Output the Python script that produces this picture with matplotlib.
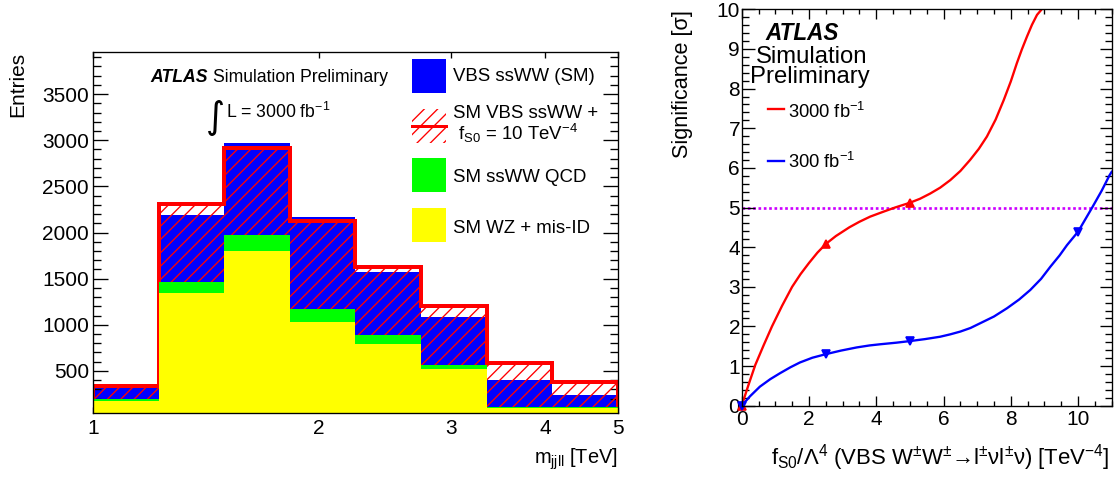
import numpy as np
import matplotlib
matplotlib.use("Agg")
import matplotlib.pyplot as plt
from matplotlib.patches import Rectangle
from matplotlib.lines import Line2D
from matplotlib.ticker import MultipleLocator, NullLocator, FixedLocator

# ---------------- data ----------------
# left panel: m_jjll histogram (bin edges in TeV)
bin_edges = [1.0, 1.223, 1.495, 1.829, 2.236, 2.734, 3.344, 4.089, 5.0]
wz_misid = [175, 1340, 1800, 1025, 790, 525, 100, 95]
ssww_qcd = [20, 125, 175, 150, 95, 37, 12, 10]
vbs_sm = [125, 725, 990, 995, 685, 518, 293, 130]
vbs_fs0 = [145, 845, 945, 955, 745, 638, 478, 270]

legend_labels = ["VBS ssWW (SM)", "SM VBS ssWW +", r" f$_{\mathregular{S0}}$ = 10 TeV$^{-4}$",
                 "SM ssWW QCD", "SM WZ + mis-ID"]

# right panel: significance vs f_S0/Lambda^4 (curve)
red_curve_x = [0.0, 0.2, 0.4, 0.65, 0.9, 1.2, 1.5, 1.75, 2.0, 2.25, 2.5, 2.8, 3.2, 3.5, 3.82,
               4.2, 4.56, 5.0, 5.3, 5.6, 5.9, 6.2, 6.5, 6.79, 7.05, 7.29, 7.55, 7.79, 8.0,
               8.18, 8.33, 8.48, 8.63, 8.78, 8.9, 8.97]
red_curve_y = [0.0, 0.52, 1.02, 1.52, 2.0, 2.52, 3.0, 3.32, 3.6, 3.86, 4.08, 4.28, 4.5, 4.64,
               4.77, 4.89, 5.0, 5.12, 5.22, 5.35, 5.5, 5.69, 5.92, 6.2, 6.48, 6.79, 7.22, 7.71,
               8.18, 8.64, 8.99, 9.31, 9.61, 9.86, 9.98, 10.05]
red_marker_x = [0.0, 2.5, 5.0]
red_marker_y = [0.0, 4.08, 5.12]

blue_curve_x = [0.0, 0.25, 0.54, 0.85, 1.14, 1.45, 1.73, 2.1, 2.5, 2.95, 3.42, 3.8, 4.12, 4.6,
                5.0, 5.45, 5.9, 6.2, 6.5, 6.8, 7.09, 7.5, 7.89, 8.25, 8.58, 8.9, 9.18, 9.45,
                9.67, 10.0, 10.2, 10.42, 10.7, 10.94, 11.0]
blue_curve_y = [0.0, 0.24, 0.48, 0.67, 0.82, 0.97, 1.09, 1.21, 1.30, 1.39, 1.47, 1.52, 1.55,
                1.59, 1.63, 1.68, 1.74, 1.8, 1.87, 1.96, 2.08, 2.25, 2.46, 2.68, 2.92, 3.2,
                3.51, 3.79, 4.05, 4.39, 4.68, 5.0, 5.42, 5.82, 5.9]
blue_marker_x = [0.0, 2.5, 5.0, 10.0]
blue_marker_y = [0.0, 1.30, 1.63, 4.39]

discovery_level = 5.0

# ---------------- style ----------------
plt.rcParams['font.family'] = ['Liberation Sans', 'DejaVu Sans']
plt.rcParams['mathtext.fontset'] = 'custom'
plt.rcParams['mathtext.rm'] = 'Liberation Sans'
plt.rcParams['mathtext.it'] = 'Liberation Sans:italic'
plt.rcParams['mathtext.bf'] = 'Liberation Sans:bold'
plt.rcParams['mathtext.default'] = 'regular'
plt.rcParams['hatch.linewidth'] = 0.8

W, H = 1117, 482
DPI = 120
fig = plt.figure(figsize=(W / DPI, H / DPI), dpi=DPI)


def FX(px):
    return px / W


def FY(py):
    return 1 - py / H


# ---------------- left panel ----------------
ax1 = fig.add_axes([FX(93), FY(413), 525 / W, 361 / H])
e = np.array(bin_edges)
wz = np.array(wz_misid, float)
qcd = np.array(ssww_qcd, float)
sm = np.array(vbs_sm, float)
eft = np.array(vbs_fs0, float)

ax1.stairs(wz + qcd + sm, e, baseline=0, fill=True, color='#0000ff', lw=0, zorder=1)
ax1.stairs(wz + qcd + eft, e, baseline=0, fill=True, facecolor='none', edgecolor='#ff0000',
           hatch='///', lw=0, zorder=2)
ax1.stairs(wz + qcd + eft, e, baseline=0, fill=False, color='#ff0000', lw=2.4, zorder=2.5)
ax1.stairs(wz + qcd, e, baseline=0, fill=True, color='#00ff00', lw=0, zorder=3)
ax1.stairs(wz, e, baseline=0, fill=True, color='#ffff00', lw=0, zorder=4)

ax1.set_xscale('log')
ax1.set_xlim(1, 5)
ax1.set_ylim(44, 3956)
ax1.xaxis.set_major_locator(FixedLocator([1, 2, 3, 4, 5]))
ax1.xaxis.set_minor_locator(NullLocator())
ax1.set_xticklabels(['1', '2', '3', '4', '5'])
ax1.yaxis.set_major_locator(FixedLocator([500, 1000, 1500, 2000, 2500, 3000, 3500]))
ax1.yaxis.set_minor_locator(MultipleLocator(100))
ax1.tick_params(which='both', direction='in', top=True, right=True, width=0.8)
ax1.tick_params(axis='y', which='major', length=9, labelsize=12.5, pad=2.5)
ax1.tick_params(axis='y', which='minor', length=4.6)
ax1.tick_params(axis='x', which='major', length=3.6, labelsize=12.5, pad=3.5)
for s in ax1.spines.values():
    s.set_linewidth(0.8)
    s.set_zorder(10)

fig.text(FX(18), FY(52), 'Entries', rotation=90, ha='center', va='top', fontsize=12.5)
fig.text(FX(618), FY(472), r'm$_{\mathregular{jjll}}$ [TeV]', ha='right', va='bottom', fontsize=12)

fig.text(FX(150), FY(82), 'ATLAS', fontsize=10.6, fontweight='bold', fontstyle='italic',
         ha='left', va='baseline')
fig.text(FX(213), FY(82), 'Simulation Preliminary', fontsize=10.6, ha='left', va='baseline')
fig.text(FX(206), FY(128), '\u222b', fontsize=22, ha='left', va='baseline',
         family=['DejaVu Sans'])
fig.text(FX(226), FY(118), r'L = 3000 fb$^{-1}$', fontsize=10.6, ha='left', va='baseline')

# legend (left panel)
box_w, box_h = 34, 34
box_x = 412
fig.add_artist(Rectangle((FX(box_x), FY(59 + box_h)), box_w / W, box_h / H,
                         transform=fig.transFigure, facecolor='#0000ff', lw=0))
fig.add_artist(Rectangle((FX(box_x), FY(109 + box_h)), box_w / W, box_h / H,
                         transform=fig.transFigure, facecolor='none', edgecolor='#ff0000',
                         hatch='///', lw=0))
fig.add_artist(Line2D([FX(box_x), FX(box_x + box_w)], [FY(126), FY(126)],
                      transform=fig.transFigure, color='#ff0000', lw=1.8))
fig.add_artist(Rectangle((FX(box_x), FY(158 + box_h)), box_w / W, box_h / H,
                         transform=fig.transFigure, facecolor='#00ff00', lw=0))
fig.add_artist(Rectangle((FX(box_x), FY(208 + box_h)), box_w / W, box_h / H,
                         transform=fig.transFigure, facecolor='#ffff00', lw=0))
for lab, yb in zip(legend_labels, [81, 118, 140, 181.5, 233]):
    fig.text(FX(453), FY(yb), lab, fontsize=11.2, ha='left', va='baseline')

# ---------------- right panel ----------------
ax2 = fig.add_axes([FX(741.7), FY(405.7), 370 / W, 396.4 / H])
ax2.axhline(discovery_level, color='#cc00ff', ls=(0, (1, 1)), lw=1.6, zorder=1)
ax2.plot(red_curve_x, red_curve_y, color='#ff0000', lw=1.4, zorder=3, solid_joinstyle='round')
ax2.plot(red_marker_x, red_marker_y, ls='none', marker='^', color='#ff0000', ms=4.5, zorder=4,
         clip_on=False)
ax2.plot(blue_curve_x, blue_curve_y, color='#0000ff', lw=1.4, zorder=3, solid_joinstyle='round')
ax2.plot(blue_marker_x, blue_marker_y, ls='none', marker='v', color='#0000ff', ms=4.5, zorder=4,
         clip_on=False)
ax2.set_xlim(0, 11)
ax2.set_ylim(0, 10)
ax2.xaxis.set_major_locator(MultipleLocator(2))
ax2.xaxis.set_minor_locator(MultipleLocator(0.5))
ax2.yaxis.set_major_locator(MultipleLocator(1))
ax2.yaxis.set_minor_locator(MultipleLocator(0.2))
ax2.tick_params(which='both', direction='in', top=True, right=True, width=0.8)
ax2.tick_params(axis='y', which='major', length=7.5, labelsize=12.5, pad=1.0)
ax2.tick_params(axis='y', which='minor', length=4.2)
ax2.tick_params(axis='x', which='major', length=6, labelsize=12.5, pad=2.5)
ax2.tick_params(axis='x', which='minor', length=3.2)
for s in ax2.spines.values():
    s.set_linewidth(0.8)
    s.set_zorder(10)

fig.text(FX(682.5), FY(10), 'Significance [\u03c3]', rotation=90, ha='center', va='top',
         fontsize=13)
xlab = ('f$_{\\mathregular{S0}}$/\u039b$^{4}$ (VBS W$^{\\pm}$W$^{\\pm}$\u2192l$^{\\pm}$\u03bd'
        'l$^{\\pm}$\u03bd) [TeV$^{-4}$]')
fig.text(FX(1110), FY(473), xlab, ha='right', va='bottom', fontsize=13.3)

fig.text(FX(765), FY(40), 'ATLAS', fontsize=13.5, fontweight='bold', fontstyle='italic',
         ha='left', va='baseline')
fig.text(FX(812), FY(63.3), 'Simulation', fontsize=14.3, ha='center', va='baseline')
fig.text(FX(810), FY(83.5), 'Preliminary', fontsize=14.3, ha='center', va='baseline')

fig.add_artist(Line2D([FX(767.7), FX(784)], [FY(109.3), FY(109.3)], transform=fig.transFigure,
                      color='#ff0000', lw=1.4))
fig.text(FX(788), FY(118.3), r'3000 fb$^{-1}$', fontsize=11, ha='left', va='baseline')
fig.add_artist(Line2D([FX(767.7), FX(784)], [FY(160.7), FY(160.7)], transform=fig.transFigure,
                      color='#0000ff', lw=1.4))
fig.text(FX(788), FY(168.3), r'300 fb$^{-1}$', fontsize=11, ha='left', va='baseline')

fig.savefig('out.png', dpi=DPI)
